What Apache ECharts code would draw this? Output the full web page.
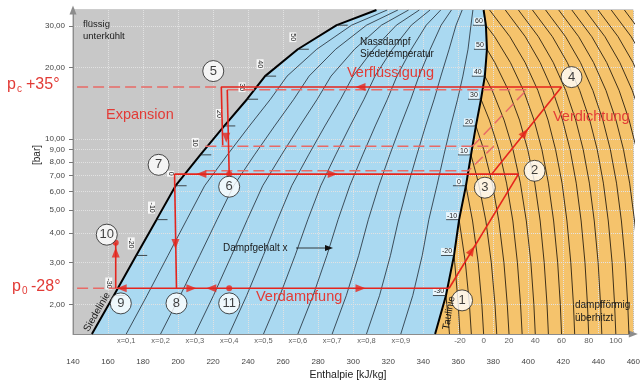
<!DOCTYPE html>
<html>
<head>
<meta charset="utf-8">
<title>log p-h Diagramm</title>
<script src="https://cdn.jsdelivr.net/npm/echarts@6/dist/echarts.min.js"></script>
<style>
html, body { margin: 0; padding: 0; background: #fff; }
#chart { width: 643px; height: 383px; }
</style>
</head>
<body>
<div id="chart"></div>
<script>
// Sättigungskurven: Druck [bar], Enthalpie [kJ/kg]
var satP    = [1.5, 2.18, 3.22, 4.56, 6.34, 8.56, 11.34, 14.7, 18.4, 23.9, 30.2, 35];
var satHLiq = [150.8, 163.3, 176.1, 187.7, 198.6, 212.7, 226.4, 239.4, 249.7, 268.4, 290.6, 313.3];
var satHVap = [346.8, 353, 357.6, 360.5, 364.4, 367.3, 370.1, 373, 375.2, 376.4, 375.8, 374.5];
var satT    = [null, -30, -20, -10, 0, 10, 20, 30, 40, 50, 60, null];
var liqLabelT = [-30, -20, -10, 0, 10, 20, 30, 40, 50];

// Dampfgehalt
var qualities = [0.1, 0.2, 0.3, 0.4, 0.5, 0.6, 0.7, 0.8, 0.9];
var qualityNames = ['x=0,1', 'x=0,2', 'x=0,3', 'x=0,4', 'x=0,5', 'x=0,6', 'x=0,7', 'x=0,8', 'x=0,9'];

// Isothermen im Überhitzungsgebiet (h bei den Drücken isoP)
var isoP = [1.5, 2, 3, 4.5, 6.5, 9, 12, 16, 21, 27, 35];
var isoT = [-30, -20, -10, 0, 10, 20, 30, 40, 50, 60, 70, 80, 90, 100, 110, 120, 130, 140, 150, 160, 170];
var isoH = [
  [355, 353.5],
  [361, 360, 358],
  [367.5, 366.4, 364.1],
  [374.5, 373.5, 371.4, 368.2],
  [382, 381, 378.9, 375.8, 371.6],
  [389, 388, 386.1, 383.2, 379.4, 374.6],
  [396.5, 395.6, 393.8, 391.2, 387.6, 383.2, 377.8],
  [404, 403.2, 401.5, 398.9, 395.5, 391.3, 386.2, 379.4],
  [411.5, 410.7, 409.1, 406.8, 403.7, 399.7, 395, 388.7, 380.9],
  [419, 418.3, 416.8, 414.5, 411.5, 407.8, 403.3, 397.3, 389.8, 380.8],
  [426.5, 425.8, 424.3, 422.1, 419.3, 415.6, 411.3, 405.5, 398.2, 389.5, 377.9],
  [434.5, 433.8, 432.4, 430.2, 427.4, 423.9, 419.6, 413.9, 406.8, 398.3, 386.9],
  [442, 441.3, 439.9, 437.7, 434.9, 431.4, 427.1, 421.4, 414.3, 405.8, 394.4],
  [450, 449.3, 447.9, 445.7, 442.9, 439.4, 435.1, 429.4, 422.3, 413.8, 402.4],
  [457.5, 456.8, 455.4, 453.2, 450.4, 446.9, 442.6, 436.9, 429.8, 421.3, 409.9],
  [465, 464.3, 462.9, 460.7, 457.9, 454.4, 450.1, 444.4, 437.3, 428.8, 417.4],
  [472.5, 471.8, 470.4, 468.2, 465.4, 461.9, 457.6, 451.9, 444.8, 436.3, 424.9],
  [480, 479.3, 477.9, 475.7, 472.9, 469.4, 465.1, 459.4, 452.3, 443.8, 432.4],
  [487.5, 486.8, 485.4, 483.2, 480.4, 476.9, 472.6, 466.9, 459.8, 451.3, 439.9],
  [495, 494.3, 492.9, 490.7, 487.9, 484.4, 480.1, 474.4, 467.3, 458.8, 447.4],
  [502.5, 501.8, 500.4, 498.2, 495.4, 491.9, 487.6, 481.9, 474.8, 466.3, 454.9]
];
var isoLabelT = [-20, 0, 20, 40, 60, 80, 100];

var pTicks = [2, 3, 4, 5, 6, 7, 8, 9, 10, 20, 30];

// Kreisprozess (zweistufig, Zwischendruck pm)
var p0 = 2.34, pc = 16.55, pm = 7.1;
var evapLine   = [[166, p0], [354.8, p0]];
var comp1Line  = [[354.8, p0], [394.4, pm]];
var midLine    = [[198, pm], [394.4, pm]];
var comp2Line  = [[379.2, pm], [419, pc]];
var condLine   = [[419, pc], [224.7, pc], [225.5, 9.4]];
var expLine    = [[228.1, 16.1], [229.2, pm]];
var exp2Line   = [[198, pm], [199.1, p0]];
var subLine    = [[164.4, p0], [164.4, 3.64]];

// Vergleichsprozess (gestrichelt)
var p0Dash   = [[133.2, p0], [166, p0]];
var pcDash   = [[133.2, pc], [224.7, pc]];
var hiDash   = [[228.1, 16.1], [399.1, 16.1]];
var diagDash = [[368.2, 9.3], [399.1, 16.1]];
var d93Dash  = [[215.6, 9.3], [380.3, 9.3]];
var d73Dash  = [[215.6, 7.33], [365.7, 7.33], [380.3, 9.3]];

var arrowH = [167.8, 207.6, 219, 304.2, 367.8, 398, 304.2, 213.3, 288.3, 227.5, 198.5, 164.4];
var arrowP = [p0, p0, p0, p0, 3.38, 10.6, pc, pm, pm, 10.1, 3.6, 3.31];
var arrowDir = [90, -90, 90, -90, -31, -39, 90, 90, -90, 180, 180, 0];

var redDots = [[164.4, 3.64], [229.2, p0], [229.2, pm]];

var stateNames = ['1', '2', '3', '4', '5', '6', '7', '8', '9', '10', '11'];
var stateH = [362.2, 403.6, 375.2, 424.7, 220.1, 229.2, 188.9, 199.1, 167.3, 159.3, 229.2];
var stateP = [2.08, 7.33, 6.22, 18.23, 19.33, 6.28, 7.77, 2.02, 2.02, 3.94, 2.02];

var FONT = '"Liberation Sans", Arial, sans-serif';
var RED = '#e5251d';
var RED_DASH = '#e86a66';
var RED_TEXT = '#e23b36';

function pairs(hs, ps) {
  return hs.map(function (h, i) { return [h, ps[i]]; });
}

var liqLine = pairs(satHLiq, satP);
var vapLine = pairs(satHVap, satP);

var qualityLines = qualities.map(function (x) {
  return satP.map(function (p, i) {
    return [satHLiq[i] + x * (satHVap[i] - satHLiq[i]), p];
  });
});

var isoLines = isoT.map(function (T, k) {
  var pts = isoH[k].map(function (h, i) { return [h, isoP[i]]; });
  var si = satT.indexOf(T);
  if (si >= 0) pts.push([satHVap[si], satP[si]]);
  return pts;
});

var chart = echarts.init(document.getElementById('chart'));

var series = [];

// Gebiete
series.push({
  type: 'custom',
  z: 1,
  silent: true,
  data: [[140, 1.5]],
  renderItem: function (params, api) {
    var c = function (pt) { return api.coord(pt); };
    var all = [[140, 1.5], [460, 1.5], [460, 35], [140, 35]].map(c);
    var wet = liqLine.concat(vapLine.slice().reverse()).map(c);
    var sup = vapLine.concat([[460, 35], [460, 1.5]]).map(c);
    return {
      type: 'group',
      children: [
        { type: 'polygon', shape: { points: all }, style: { fill: '#c8c8c8' } },
        { type: 'polygon', shape: { points: wet }, style: { fill: '#aad9f1' } },
        { type: 'polygon', shape: { points: sup }, style: { fill: '#f5c36c' } }
      ]
    };
  }
});

qualityLines.forEach(function (d) {
  series.push({
    type: 'line', data: d, symbol: 'none', silent: true, z: 3,
    lineStyle: { color: '#1f2a33', width: 0.8 }
  });
});

isoLines.forEach(function (d) {
  series.push({
    type: 'line', data: d, symbol: 'none', silent: true, z: 3,
    lineStyle: { color: '#2a2010', width: 0.9 }
  });
});

[liqLine, vapLine].forEach(function (d) {
  series.push({
    type: 'line', data: d, symbol: 'none', silent: true, z: 4,
    lineStyle: { color: '#000', width: 2 }
  });
});

// Beschriftung der Siedetemperaturen an Siede- und Taulinie
var satLabelData = [];
satT.forEach(function (T, i) {
  if (T === null) return;
  satLabelData.push([satHVap[i], satP[i], T, 1]);
  satLabelData.push([satHLiq[i], satP[i], T, liqLabelT.indexOf(T) >= 0 ? 0 : 2]);
});
series.push({
  type: 'custom',
  z: 5,
  silent: true,
  clip: false,
  data: satLabelData,
  renderItem: function (params, api) {
    var pt = api.coord([api.value(0), api.value(1)]);
    var T = api.value(2), side = api.value(3);
    var x = pt[0], y = pt[1];
    if (side === 1) {
      return {
        type: 'group',
        children: [
          { type: 'line', shape: { x1: x - 13, y1: y, x2: x, y2: y }, style: { stroke: '#222', lineWidth: 0.8 } },
          {
            type: 'text', x: x - 7, y: y - 4,
            style: {
              text: String(T), fontSize: 7, fontFamily: FONT, fill: '#222',
              align: 'center', verticalAlign: 'middle',
              backgroundColor: 'rgba(255,255,255,0.75)', padding: [0, 1]
            }
          }
        ]
      };
    }
    var kids = [
      { type: 'line', shape: { x1: x, y1: y, x2: x + 11, y2: y }, style: { stroke: '#222', lineWidth: 0.8 } }
    ];
    if (side === 0) {
      kids.push({
        type: 'text', x: x - 5, y: y - 12, rotation: -Math.PI / 2,
        style: {
          text: String(T), fontSize: 7, fontFamily: FONT, fill: '#222',
          align: 'center', verticalAlign: 'middle',
          backgroundColor: 'rgba(255,255,255,0.85)', padding: [0, 1]
        }
      });
    }
    return { type: 'group', children: kids };
  }
});

// gestrichelte Linien
[p0Dash, pcDash, hiDash, diagDash, d93Dash, d73Dash].forEach(function (d) {
  series.push({
    type: 'line', data: d, symbol: 'none', silent: true, z: 6, clip: false,
    lineStyle: { color: RED_DASH, width: 1.5, type: [11, 5] }
  });
});

// Kreisprozess
[evapLine, comp1Line, midLine, comp2Line, condLine, expLine, exp2Line, subLine].forEach(function (d) {
  series.push({
    type: 'line', data: d, symbol: 'none', silent: true, z: 7,
    lineStyle: { color: RED, width: 1.6 }
  });
});

series.push({
  type: 'scatter', z: 8, silent: true,
  data: arrowH.map(function (h, i) {
    return { value: [h, arrowP[i]], symbolRotate: arrowDir[i] };
  }),
  symbol: 'triangle', symbolSize: [8, 10],
  itemStyle: { color: RED }
});

series.push({
  type: 'scatter', z: 8, silent: true,
  data: redDots, symbol: 'circle', symbolSize: 6,
  itemStyle: { color: RED }
});

series.push({
  type: 'scatter', z: 9, silent: true,
  data: stateH.map(function (h, i) { return [h, stateP[i]]; }),
  symbol: 'circle', symbolSize: 21,
  itemStyle: { color: '#fff', borderColor: '#222', borderWidth: 1 },
  label: {
    show: true, position: 'inside', fontSize: 13, fontFamily: FONT, color: '#111',
    formatter: function (p) { return stateNames[p.dataIndex]; }
  }
});

// Beschriftung unterhalb der Kurven
series.push({
  type: 'scatter', z: 9, silent: true,
  data: qualityLines.map(function (d) { return d[0]; }),
  symbolSize: 0,
  label: {
    show: true, position: 'bottom', distance: 3, fontSize: 7.5, fontFamily: FONT, color: '#333',
    formatter: function (p) { return qualityNames[p.dataIndex]; }
  }
});
series.push({
  type: 'scatter', z: 9, silent: true,
  data: isoLabelT.map(function (T) { return [isoH[isoT.indexOf(T)][0], isoP[0]]; }),
  symbolSize: 0,
  label: {
    show: true, position: 'bottom', distance: 3, fontSize: 8, fontFamily: FONT, color: '#333',
    formatter: function (p) { return String(isoLabelT[p.dataIndex]); }
  }
});

function txt(left, top, text, size, color) {
  return {
    type: 'text', left: left, top: top, z: 20,
    style: { text: text, font: size + 'px ' + FONT, fill: color }
  };
}

var graphics = [
  txt(83, 19, 'flüssig', 9.5, '#1a1a1a'),
  txt(83, 31, 'unterkühlt', 9.5, '#1a1a1a'),
  txt(360, 37, 'Nassdampf', 10, '#1a1a1a'),
  txt(360, 49, 'Siedetemperatur', 10, '#1a1a1a'),
  txt(347, 65, 'Verflüssigung', 14.5, RED_TEXT),
  txt(106, 107, 'Expansion', 14.5, RED_TEXT),
  txt(553, 109, 'Verdichtung', 14.5, RED_TEXT),
  txt(256, 289, 'Verdampfung', 14.5, RED_TEXT),
  txt(223, 243, 'Dampfgehalt x', 10, '#1a1a1a'),
  txt(575, 300, 'dampfförmig', 10, '#1a1a1a'),
  txt(575, 313, 'überhitzt', 10, '#1a1a1a'),
  txt(7, 77, 'p', 16, RED_TEXT),
  txt(17, 84, 'c', 10, RED_TEXT),
  txt(26, 77, '+35°', 16, RED_TEXT),
  txt(12, 279, 'p', 16, RED_TEXT),
  txt(22, 286, '0', 10, RED_TEXT),
  txt(31, 279, '-28°', 16, RED_TEXT),
  {
    type: 'text', x: 37, y: 155, rotation: Math.PI / 2, z: 20,
    style: { text: '[bar]', font: '10px ' + FONT, fill: '#222', textAlign: 'center', textVerticalAlign: 'middle' }
  },
  {
    type: 'text', x: 348, y: 375, z: 20,
    style: { text: 'Enthalpie [kJ/kg]', font: '10.5px ' + FONT, fill: '#222', textAlign: 'center', textVerticalAlign: 'middle' }
  },
  {
    type: 'text', x: 97, y: 312, rotation: Math.PI / 180 * 60, z: 20,
    style: { text: 'Siedelinie', font: '10px ' + FONT, fill: '#111', textAlign: 'center', textVerticalAlign: 'middle' }
  },
  {
    type: 'text', x: 449, y: 313, rotation: Math.PI / 180 * 80, z: 20,
    style: { text: 'Taulinie', font: '10px ' + FONT, fill: '#111', textAlign: 'center', textVerticalAlign: 'middle' }
  },
  { type: 'line', z: 20, shape: { x1: 296, y1: 248, x2: 326, y2: 248 }, style: { stroke: '#111', lineWidth: 0.8 } },
  { type: 'polygon', z: 20, shape: { points: [[333, 248], [325, 245], [325, 251]] }, style: { fill: '#111' } }
];

chart.setOption({
  animation: false,
  textStyle: { fontFamily: FONT },
  grid: { left: 73, right: 5, top: 10, bottom: 49, show: true, borderColor: '#9a9a9a', borderWidth: 1, backgroundColor: 'transparent' },
  xAxis: {
    type: 'value', min: 140, max: 460, interval: 20, z: 2,
    axisLine: { show: true, lineStyle: { color: '#8c8c8c' }, symbol: ['none', 'triangle'], symbolSize: [7, 9] },
    axisTick: { show: false },
    axisLabel: { fontSize: 8, color: '#444', margin: 24 },
    splitLine: { show: true, lineStyle: { type: 'dotted', color: '#e2e2e2', width: 1 } }
  },
  yAxis: {
    type: 'log', logBase: 10, min: 1.5, max: 35, z: 2,
    axisLine: { show: true, lineStyle: { color: '#8c8c8c' }, symbol: ['none', 'triangle'], symbolSize: [7, 9] },
    axisTick: { show: true, customValues: pTicks, length: 4, lineStyle: { color: '#777' } },
    axisLabel: {
      customValues: pTicks, fontSize: 8, color: '#444', margin: 8,
      formatter: function (v) { return v.toFixed(2).replace('.', ','); }
    },
    splitLine: { show: true, lineStyle: { type: 'dotted', color: '#e2e2e2', width: 1 } }
  },
  graphic: graphics,
  series: series
});
</script>
</body>
</html>
